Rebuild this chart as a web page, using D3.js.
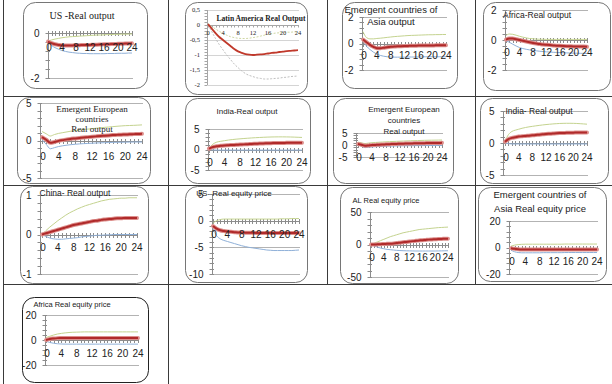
<!DOCTYPE html>
<html><head><meta charset="utf-8">
<script src="https://cdn.jsdelivr.net/npm/d3@7"></script>
<style>body{margin:0;background:#fff}svg{display:block}</style>
</head><body>
<svg id="c" width="612" height="384"></svg>
<script>
// ---------- DATA ----------
const periods = [0,1,2,3,4,5,6,7,8,9,10,11,12,13,14,15,16,17,18,19,20,21,22,23,24];
const xTickValues = [0,4,8,12,16,20,24];
const xTickLabels = ["0","4","8","12","16","20","24"];

const usOutMid = [-0.38,-0.45,-0.5,-0.53,-0.55,-0.55,-0.55,-0.55,-0.54,-0.54,-0.53,-0.53,-0.53,-0.52,-0.52,-0.51,-0.5,-0.5,-0.49,-0.49,-0.48,-0.48,-0.47,-0.47,-0.46];
const usOutLo  = [-0.4,-0.55,-0.65,-0.72,-0.78,-0.82,-0.85,-0.87,-0.89,-0.9,-0.91,-0.91,-0.92,-0.92,-0.92,-0.92,-0.92,-0.91,-0.91,-0.91,-0.9,-0.9,-0.9,-0.89,-0.89];
const usOutHi  = [-0.36,-0.31,-0.27,-0.24,-0.21,-0.19,-0.17,-0.16,-0.15,-0.14,-0.13,-0.12,-0.11,-0.1,-0.09,-0.09,-0.08,-0.07,-0.07,-0.06,-0.06,-0.05,-0.05,-0.05,-0.04];

const latOutMid = [0.03,-0.12,-0.27,-0.4,-0.5,-0.6,-0.7,-0.8,-0.88,-0.93,-0.97,-0.99,-1.0,-0.99,-0.98,-0.97,-0.95,-0.93,-0.92,-0.9,-0.89,-0.87,-0.86,-0.85,-0.84];
const latOutLo  = [0,-0.22,-0.45,-0.65,-0.83,-1.0,-1.15,-1.3,-1.42,-1.53,-1.62,-1.68,-1.72,-1.76,-1.78,-1.8,-1.8,-1.79,-1.78,-1.77,-1.75,-1.74,-1.72,-1.71,-1.7];
const latOutHi  = [0.05,-0.05,-0.13,-0.21,-0.28,-0.34,-0.39,-0.42,-0.44,-0.45,-0.45,-0.44,-0.42,-0.4,-0.37,-0.34,-0.31,-0.29,-0.27,-0.26,-0.25,-0.24,-0.24,-0.23,-0.23];

const asiaOutMid = [0.3,0.1,-0.1,-0.25,-0.35,-0.35,-0.32,-0.28,-0.25,-0.23,-0.21,-0.2,-0.19,-0.18,-0.17,-0.17,-0.16,-0.16,-0.15,-0.15,-0.15,-0.14,-0.14,-0.14,-0.14];
const asiaOutLo  = [0.2,-0.2,-0.45,-0.65,-0.8,-0.9,-0.96,-1.0,-1.02,-1.03,-1.03,-1.03,-1.03,-1.02,-1.02,-1.02,-1.01,-1.01,-1.0,-1.0,-1.0,-1.0,-1.0,-1.0,-1.0];
const asiaOutHi  = [0.9,0.45,0.35,0.35,0.38,0.4,0.43,0.46,0.49,0.52,0.54,0.56,0.58,0.6,0.61,0.62,0.63,0.64,0.65,0.66,0.66,0.67,0.67,0.68,0.68];

const afrOutMid = [0.03,0.1,0.1,0.05,0,-0.05,-0.1,-0.15,-0.2,-0.24,-0.27,-0.3,-0.32,-0.34,-0.36,-0.38,-0.39,-0.4,-0.41,-0.42,-0.43,-0.43,-0.44,-0.44,-0.45];
const afrOutLo  = [-0.05,-0.15,-0.28,-0.4,-0.5,-0.57,-0.62,-0.66,-0.69,-0.72,-0.75,-0.77,-0.79,-0.8,-0.82,-0.83,-0.84,-0.85,-0.86,-0.87,-0.88,-0.88,-0.89,-0.89,-0.9];
const afrOutHi  = [0.3,0.4,0.38,0.32,0.25,0.19,0.14,0.1,0.08,0.06,0.05,0.05,0.04,0.04,0.04,0.04,0.04,0.04,0.04,0.04,0.04,0.04,0.04,0.04,0.04];

const eeOutMid = [0.45,0.1,-0.3,-0.2,-0.05,0.05,0.15,0.22,0.28,0.34,0.4,0.45,0.5,0.55,0.6,0.64,0.68,0.72,0.75,0.78,0.8,0.83,0.85,0.87,0.89];
const eeOutLo  = [0.1,-0.5,-1.1,-0.95,-0.8,-0.7,-0.62,-0.55,-0.5,-0.45,-0.42,-0.39,-0.36,-0.33,-0.31,-0.29,-0.27,-0.25,-0.24,-0.23,-0.22,-0.21,-0.2,-0.2,-0.2];
const eeOutHi  = [1.2,0.9,0.6,0.8,0.95,1.05,1.15,1.25,1.32,1.4,1.46,1.52,1.58,1.64,1.7,1.75,1.8,1.85,1.9,1.94,1.98,2.0,2.02,2.05,2.08];

const indOutMid = [0.2,0.6,0.8,0.9,1.0,1.05,1.1,1.15,1.2,1.25,1.3,1.35,1.4,1.44,1.48,1.52,1.55,1.57,1.59,1.61,1.62,1.63,1.64,1.65,1.65];
const indOutLo  = [0,-0.1,-0.15,-0.15,-0.15,-0.15,-0.15,-0.15,-0.15,-0.15,-0.15,-0.15,-0.15,-0.15,-0.15,-0.15,-0.15,-0.15,-0.15,-0.15,-0.15,-0.15,-0.15,-0.15,-0.15];
const indOutHi  = [0.3,1.3,1.8,2.0,2.15,2.3,2.42,2.52,2.6,2.68,2.75,2.82,2.88,2.93,2.98,3.02,3.05,3.07,3.08,3.08,3.07,3.05,3.02,2.98,2.94];

const chnOutMid = [0,0.03,0.06,0.09,0.12,0.15,0.18,0.21,0.24,0.26,0.28,0.3,0.32,0.34,0.35,0.37,0.38,0.39,0.4,0.41,0.41,0.42,0.42,0.42,0.42];
const chnOutLo  = [0,-0.05,-0.09,-0.11,-0.12,-0.12,-0.11,-0.1,-0.09,-0.08,-0.06,-0.05,-0.04,-0.03,-0.02,-0.02,-0.01,-0.01,0,0,0,0,0,0,0];
const chnOutHi  = [0,0.1,0.19,0.27,0.35,0.42,0.49,0.55,0.6,0.65,0.69,0.73,0.76,0.79,0.82,0.85,0.87,0.89,0.9,0.91,0.92,0.92,0.93,0.93,0.93];

const usEqMid = [-1.0,-1.5,-1.8,-1.95,-2.05,-2.1,-2.15,-2.2,-2.2,-2.25,-2.25,-2.25,-2.3,-2.3,-2.3,-2.3,-2.3,-2.3,-2.3,-2.3,-2.3,-2.3,-2.3,-2.3,-2.3];
const usEqLo  = [-1.5,-2.8,-3.4,-3.7,-3.9,-4.1,-4.3,-4.5,-4.7,-4.85,-5.0,-5.1,-5.2,-5.3,-5.4,-5.5,-5.55,-5.6,-5.6,-5.6,-5.6,-5.6,-5.6,-5.55,-5.5];
const usEqHi  = [-0.5,0,0.2,0.3,0.3,0.3,0.3,0.3,0.3,0.3,0.3,0.3,0.3,0.3,0.3,0.3,0.3,0.3,0.3,0.35,0.35,0.35,0.4,0.4,0.4];

const alEqMid = [0,0,0.3,0.5,0.8,1,1.3,1.7,2.2,2.8,3.4,4,4.6,5.2,5.7,6.2,6.7,7.1,7.5,7.8,8.1,8.4,8.6,8.8,9];
const alEqLo  = [0,-2,-4,-5.5,-6.5,-7.5,-8,-8.5,-9,-9.3,-9.5,-9.7,-9.8,-9.9,-10,-10,-10,-10,-10,-10,-10,-9.9,-9.8,-9.7,-9.6];
const alEqHi  = [0,2,4,6,8,10,12,13.5,15,16.5,18,19,20,21,22,23,23.5,24,24.5,25,25.5,26,26.2,26.5,26.8];

const asiaEqMid = [-0.5,-1,-1.3,-1.5,-1.6,-1.6,-1.6,-1.6,-1.6,-1.6,-1.6,-1.6,-1.55,-1.55,-1.55,-1.55,-1.5,-1.5,-1.5,-1.5,-1.5,-1.5,-1.5,-1.5,-1.5];
const asiaEqLo  = [-2,-3.2,-3.8,-4,-4,-4,-4,-4,-4,-3.9,-3.9,-3.9,-3.9,-3.9,-3.9,-3.8,-3.8,-3.8,-3.8,-3.8,-3.8,-3.8,-3.8,-3.8,-3.8];
const asiaEqHi  = [1,1.8,2.2,2.4,2.5,2.5,2.5,2.5,2.5,2.5,2.5,2.5,2.5,2.5,2.5,2.6,2.6,2.6,2.6,2.6,2.6,2.6,2.6,2.6,2.6];

const afrEqMid = [0,0.8,1.2,1.5,1.6,1.7,1.7,1.7,1.7,1.7,1.7,1.7,1.7,1.7,1.7,1.7,1.7,1.7,1.7,1.7,1.7,1.7,1.7,1.7,1.7];
const afrEqLo  = [-1,-2,-2.6,-3,-3.2,-3.3,-3.3,-3.3,-3.3,-3.3,-3.3,-3.3,-3.3,-3.3,-3.3,-3.3,-3.3,-3.3,-3.3,-3.3,-3.3,-3.3,-3.3,-3.3,-3.3];
const afrEqHi  = [2,3,4,4.8,5.3,5.7,6,6.2,6.3,6.4,6.5,6.5,6.5,6.5,6.5,6.5,6.5,6.5,6.5,6.5,6.5,6.5,6.5,6.5,6.5];

// ---------- LAYOUT ----------
const SANS = "'Liberation Sans', Arial, sans-serif";
const SERIF = "'Liberation Serif', 'Times New Roman', serif";
const panels = [
 {box:[23,2,124,86], ax:48, x0:48, x1:132, yTop:33, yBot:78, domain:[-2,0], major:2, ticks:[0,-2], labels:["0","-2"],
  title:["US -Real output"], tx:82, ty:[15], tfont:SERIF, tsize:10, xly:47, mid:usOutMid, lo:usOutLo, hi:usOutHi},
 {box:[185,2,122,92], ax:207, x0:208, x1:298, yTop:10, yBot:85, domain:[-2,0.5], major:0.5, ticks:[0.5,0,-0.5,-1,-1.5,-2], labels:["0,5","0","-0,5","-1","-1,5","-2"],
  title:["Latin America Real Output"], tx:261, ty:[18], tfont:SERIF, tsize:7.6, tbold:true, xly:33, lab:SERIF, labsize:6.5, style:"lat",
  mid:latOutMid, lo:latOutLo, hi:latOutHi},
 {box:[342,2,115,86], ax:362, x0:363, x1:446, yTop:17, yBot:70, domain:[-2,2], major:2, ticks:[2,0,-2], labels:["2","0","-2"],
  title:["Emergent countries of","Asia output"], tx:391, ty:[10,22], tfont:SANS, tsize:9.5, xly:55, mid:asiaOutMid, lo:asiaOutLo, hi:asiaOutHi},
 {box:[483,2,127,88], ax:505, x0:506, x1:587, yTop:10, yBot:70, domain:[-2,2], major:2, ticks:[2,0,-2], labels:["2","0","-2"],
  title:["Africa-Real output"], tx:537, ty:[15], tfont:SANS, tsize:8.5, xly:52, mid:afrOutMid, lo:afrOutLo, hi:afrOutHi},
 {box:[17,97,133,86], ax:40, x0:42, x1:142, yTop:103, yBot:178, domain:[-5,5], major:5, ticks:[5,0,-5], labels:["5","0","-5"],
  title:["Emergent European","countries","Real output"], tx:92, ty:[109,119,129], tfont:SERIF, tsize:9, xly:156, mid:eeOutMid, lo:eeOutLo, hi:eeOutHi},
 {box:[185,98,125,85], ax:208, x0:209, x1:302, yTop:129, yBot:170, domain:[-5,5], major:5, ticks:[5,0,-5], labels:["5","0","-5"],
  title:["India-Real output"], tx:247, ty:[111], tfont:SANS, tsize:8, xly:162, mid:indOutMid, lo:indOutLo, hi:indOutHi},
 {box:[333,98,120,85], ax:356, x0:358, x1:442, yTop:133, yBot:157, domain:[-5,5], major:5, ticks:[5,0,-5], labels:["5","0","-5"],
  title:["Emergent European","countries","Real output"], tx:404, ty:[109,120,131], tfont:SANS, tsize:8, xly:157, mid:eeOutMid, lo:eeOutLo, hi:eeOutHi},
 {box:[480,98,128,85], ax:503, x0:505, x1:587, yTop:111, yBot:175, domain:[-5,5], major:5, ticks:[5,0,-5], labels:["5","0","-5"],
  title:["India- Real output"], tx:539, ty:[111], tfont:SANS, tsize:8.5, xly:157, mid:indOutMid, lo:indOutLo, hi:indOutHi},
 {box:[20,186,128,97], ax:40, x0:42, x1:137, yTop:195, yBot:274, domain:[-1,1], major:1, ticks:[1,0,-1], labels:["1","0","-1"],
  title:["China- Real output"], tx:75, ty:[193], tfont:SANS, tsize:8.5, xly:247, mid:chnOutMid, lo:chnOutLo, hi:chnOutHi},
 {box:[185,186,122,96], ax:212, x0:213, x1:299, yTop:194, yBot:274, domain:[-10,5], major:5, ticks:[5,0,-5,-10], labels:["5","0","-5","-10"],
  title:["US- Real equity price"], tx:234, ty:[193], tfont:SANS, tsize:8, xly:234, mid:usEqMid, lo:usEqLo, hi:usEqHi},
 {box:[340,187,118,96], ax:370, x0:371, x1:448, yTop:212, yBot:277, domain:[-50,50], major:50, ticks:[50,0,-50], labels:["50","0","-50"],
  title:["AL  Real equity price"], tx:386, ty:[200], tfont:SANS, tsize:7.5, xly:257, mid:alEqMid, lo:alEqLo, hi:alEqHi},
 {box:[478,187,128,94], ax:509, x0:511, x1:597, yTop:221, yBot:274, domain:[-20,20], major:20, ticks:[20,0,-20], labels:["20","0","-20"],
  title:["Emergent countries of","Asia Real equity price"], tx:540, ty:[195,209], tfont:SANS, tsize:9.5, xly:261, mid:asiaEqMid, lo:asiaEqLo, hi:asiaEqHi},
 {box:[22,297,126,85], ax:45, x0:46, x1:138, yTop:315, yBot:365, domain:[-20,20], major:20, ticks:[20,0,-20], labels:["20","0","-20"],
  title:["Africa Real equity price"], tx:72, ty:[304], tfont:SANS, tsize:7.5, xly:353, boxStroke:"#222", mid:afrEqMid, lo:afrEqLo, hi:afrEqHi}
];

const svg = d3.select("#c");

// table borders
const tbl = svg.append("g").attr("stroke","#3a3a3a").attr("stroke-width",1);
[[3.5,0,3.5,384],[168.5,0,168.5,384],[327.5,0,327.5,284],[475.5,0,475.5,284],
 [3,96.5,612,96.5],[3,185.5,612,185.5],[3,284.5,612,284.5]].forEach(l=>{
  tbl.append("line").attr("x1",l[0]).attr("y1",l[1]).attr("x2",l[2]).attr("y2",l[3]);
});

function drawPanel(p){
  const g = svg.append("g");
  const lat = p.style==="lat";
  g.append("rect").attr("x",p.box[0]+.5).attr("y",p.box[1]+.5).attr("width",p.box[2]).attr("height",p.box[3])
    .attr("rx",12).attr("ry",12).attr("fill","#fff").attr("stroke",p.boxStroke||"#767676").attr("stroke-width",1);
  const x = d3.scaleLinear().domain([0,24]).range([p.x0,p.x1]);
  const y = d3.scaleLinear().domain(p.domain).range([p.yBot,p.yTop]);
  // gridlines
  p.ticks.forEach(v=>{
    if(v===0) return;
    g.append("line").attr("x1",p.ax).attr("x2",p.x1+1).attr("y1",Math.round(y(v))+.5).attr("y2",Math.round(y(v))+.5)
      .attr("stroke",lat?"#d4d4d4":"#b3b3b3").attr("stroke-width",1);
  });
  // y axis + minor ticks
  const axc = lat?"#a6a6a6":"#8c8c8c";
  g.append("line").attr("x1",p.ax+.5).attr("x2",p.ax+.5).attr("y1",p.yTop).attr("y2",p.yBot).attr("stroke",axc);
  const minor = p.major/5;
  const n = Math.round((p.domain[1]-p.domain[0])/minor);
  for(let i=0;i<=n;i++){
    const v = p.domain[0]+i*minor;
    const yy = Math.round(y(v))+.5;
    g.append("line").attr("x1",p.ax-2.5).attr("x2",p.ax+(lat?0:2)).attr("y1",yy).attr("y2",yy).attr("stroke",axc);
  }
  // x axis at 0 with crossing ticks at every period
  const y0 = Math.round(y(0))+.5;
  g.append("line").attr("x1",p.ax).attr("x2",p.x1+1).attr("y1",y0).attr("y2",y0).attr("stroke",axc);
  periods.forEach(t=>{
    const xx = Math.round(x(t))+.5;
    g.append("line").attr("x1",xx).attr("x2",xx).attr("y1",y0-(lat?0:2.5)).attr("y2",y0+(lat?2:2.5)).attr("stroke",axc);
  });
  // series
  const line = d3.line().x((d,i)=>x(periods[i])).y(d=>y(d)).curve(d3.curveMonotoneX);
  if(lat){
    g.append("path").attr("d",line(p.lo)).attr("fill","none").attr("stroke","#b8b8b8").attr("stroke-width",0.9).attr("stroke-dasharray","2,1.5");
    g.append("path").attr("d",line(p.hi)).attr("fill","none").attr("stroke","#c9d39a").attr("stroke-width",0.9).attr("stroke-dasharray","2,1.5");
    g.append("path").attr("d",line(p.mid)).attr("fill","none").attr("stroke","#c0392b").attr("stroke-width",1.8);
  } else {
    g.append("path").attr("d",line(p.lo)).attr("fill","none").attr("stroke","#8fb0d8").attr("stroke-width",1);
    g.append("path").attr("d",line(p.hi)).attr("fill","none").attr("stroke","#c4d38f").attr("stroke-width",1);
    g.append("path").attr("d",line(p.mid)).attr("fill","none").attr("stroke","#dd8f8c").attr("stroke-width",4).attr("stroke-linecap","round");
    g.append("path").attr("d",line(p.mid)).attr("fill","none").attr("stroke","#b02a2a").attr("stroke-width",2);
  }
  // y labels
  const lf = p.lab||SANS, ls = p.labsize||10;
  p.ticks.forEach((v,i)=>{
    g.append("text").attr("x",p.ax-(lat?7:8.5)).attr("y",y(v)).attr("dy","0.35em").attr("text-anchor","end")
      .attr("font-family",lf).attr("font-size",ls).attr("fill","#222").text(p.labels[i]);
  });
  // x labels
  xTickValues.forEach((v,i)=>{
    g.append("text").attr("x",x(v)+(v===0&&!lat?1:0)).attr("y",p.xly).attr("dy","0.35em").attr("text-anchor","middle")
      .attr("font-family",lf).attr("font-size",ls).attr("fill","#222").text(xTickLabels[i]);
  });
  // title
  p.title.forEach((t,i)=>{
    g.append("text").attr("x",p.tx).attr("y",p.ty[i]).attr("dy","0.35em").attr("text-anchor","middle")
      .attr("font-family",p.tfont).attr("font-size",p.tsize).attr("font-weight",p.tbold?"bold":"normal")
      .attr("fill","#1a1a1a").text(t);
  });
}
panels.forEach(drawPanel);
</script>
</body></html>
